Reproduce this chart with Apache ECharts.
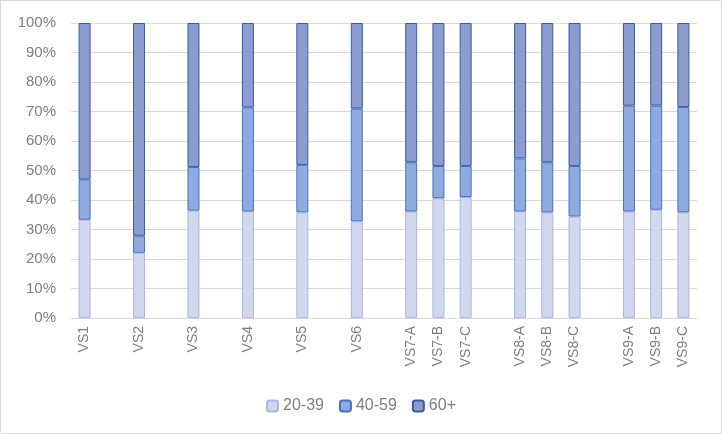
<!DOCTYPE html>
<html><head><meta charset="utf-8">
<script src="https://cdn.jsdelivr.net/npm/echarts@6/dist/echarts.min.js"></script>
<style>html,body{margin:0;padding:0;background:#fff}#c{width:722px;height:434px;box-sizing:border-box;border:1px solid #d9d9d9}</style>
</head><body><div id="c"></div>
<script>
var categories = ['VS1','','VS2','','VS3','','VS4','','VS5','','VS6','','VS7-A','VS7-B','VS7-C','','VS8-A','VS8-B','VS8-C','','VS9-A','VS9-B','VS9-C'];
var seriesNames = ['20-39','40-59','60+'];
var age20_39 = [33.3,null,22.1,null,36.4,null,36.1,null,35.8,null,32.8,null,36.1,40.6,41.0,null,36.1,35.8,34.4,null,36.1,36.7,35.8];
var age40_59 = [13.7,null,5.8,null,14.8,null,35.3,null,16.1,null,38.2,null,16.7,10.9,10.5,null,18.0,17.0,17.1,null,35.9,35.3,35.7];
var age60p   = [53.0,null,72.1,null,48.8,null,28.6,null,48.1,null,29.0,null,47.2,48.5,48.5,null,45.9,47.2,48.5,null,28.0,28.0,28.5];
var yTicks = ['0%','10%','20%','30%','40%','50%','60%','70%','80%','90%','100%'];

var fills = ['#d0d7ef','#8eaadf','#8d9ccf'];
var borders = ['#a9b6e0','#4a70c2','#3a5aa5'];
var dataSets = [age20_39, age40_59, age60p];

var chart = echarts.init(document.getElementById('c'), null, {renderer:'canvas'});
chart.setOption({
  animation:false,
  textStyle:{fontFamily:'Liberation Sans'},
  grid:{left:70, right:24, top:22, bottom:115, containLabel:false},
  legend:{
    bottom:14, left:'center', itemWidth:11, itemHeight:11, itemGap:15,
    textStyle:{color:'#7f7f7f', fontSize:16, fontFamily:'Liberation Sans'},
    data:seriesNames
  },
  xAxis:{
    type:'category', data:categories,
    axisLine:{lineStyle:{color:'#d9d9d9'}},
    axisTick:{show:false},
    axisLabel:{interval:0, rotate:90, color:'#7f7f7f', fontSize:14, margin:8}
  },
  yAxis:{
    type:'value', min:0, max:100, interval:10,
    axisLine:{show:false}, axisTick:{show:false},
    splitLine:{lineStyle:{color:'#d9d9d9'}},
    axisLabel:{color:'#7f7f7f', fontSize:15, margin:15, formatter:function(v){return yTicks[Math.round(v/10)];}}
  },
  series: seriesNames.map(function(n,i){
    return {name:n, type:'bar', stack:'a', barWidth:12, data:dataSets[i],
      itemStyle:{color:fills[i], borderColor:borders[i], borderWidth:1}};
  })
});
</script></body></html>
